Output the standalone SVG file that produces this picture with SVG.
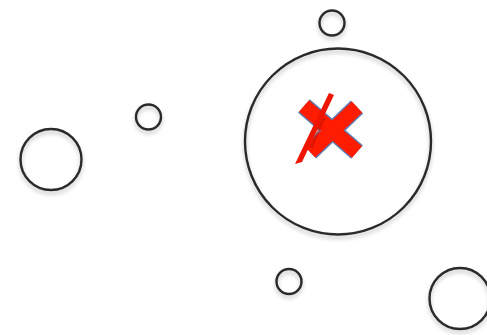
<svg xmlns="http://www.w3.org/2000/svg" width="487" height="335" viewBox="0 0 487 335">
<defs>
<filter id="sh" x="-30%" y="-30%" width="160%" height="170%">
<feGaussianBlur in="SourceAlpha" stdDeviation="2"/>
<feOffset dy="3"/>
<feComponentTransfer><feFuncA type="linear" slope="0.25"/></feComponentTransfer>
<feMerge><feMergeNode/><feMergeNode in="SourceGraphic"/></feMerge>
</filter>
<filter id="soft"><feGaussianBlur stdDeviation="0.7"/></filter>
</defs>
<style>
.c{fill:none;stroke:#2b2b2b;stroke-width:2.4;filter:url(#sh)}
.xo{stroke:#5b7fb8;stroke-linecap:butt;fill:none}
.xr{stroke:#ff1a00;stroke-linecap:butt;fill:none}
</style>
<rect width="487" height="335" fill="#ffffff"/>
<g id="big"><circle class="c" cx="338" cy="141.5" r="93"/></g>
<g id="top"><circle class="c" cx="332" cy="23" r="12.5"/></g>
<g id="leftsmall"><circle class="c" cx="148.5" cy="117" r="12.5"/></g>
<g id="leftmed"><circle class="c" cx="51" cy="159.5" r="30.5"/></g>
<g id="bottomsmall"><circle class="c" cx="289" cy="281.5" r="12.5"/></g>
<g id="bottomright"><circle class="c" cx="460" cy="298.5" r="30.5"/></g>
<g id="cross" filter="url(#soft)">
<line class="xo" x1="304" y1="106" x2="357" y2="152" stroke-width="18"/>
<line class="xo" x1="357" y1="107" x2="310" y2="152" stroke-width="18"/>
<line class="xr" x1="304" y1="106" x2="357" y2="152" stroke-width="15"/>
<line class="xr" x1="357" y1="107" x2="310" y2="152" stroke-width="15"/>
<polygon points="329,93 334,95 302,162 295,164" fill="#ee1600"/>
<line x1="324" y1="118" x2="311" y2="148" stroke="#c01000" stroke-width="3" opacity="0.5"/>
</g>
</svg>
